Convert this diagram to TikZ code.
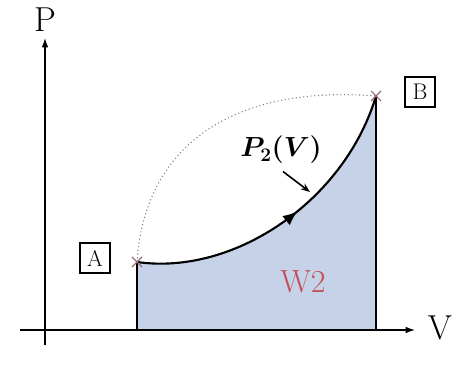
\documentclass[tikz,border=0pt]{standalone}
\usepackage{bm}
\usepackage{tikz}
\usetikzlibrary{decorations.markings, arrows.meta}
\definecolor{workfill}{RGB}{197,210,232}
\definecolor{workred}{RGB}{196,78,88}
\definecolor{crossc}{RGB}{150,110,115}
\begin{document}
\begin{tikzpicture}[x=0.75pt, y=-0.75pt,
  axis/.style={-{Latex[length=7pt,width=5pt]}, line width=1pt},
  ptbox/.style={rectangle, draw, line width=1.5pt, minimum width=23pt, minimum height=23pt,
                inner sep=0pt, font=\fontsize{17}{19}\selectfont},
  crossmark/.style={draw=crossc, thick},
  pathlbl/.style={font=\fontsize{20}{23}\selectfont}
]
  \useasboundingbox (0,0) rectangle (461,374);

  % Zone de travail
  \fill[workfill] (137,262) .. controls (235,276) and (345,200) .. (376,96)
    -- (376,330) -- (137,330) -- cycle;
  \draw[line width=1.6pt] (137,330) -- (137,262);
  \draw[line width=1.6pt] (376,96) -- (376,330);

  % Axes
  \coordinate (yo) at (45,345);
  \coordinate (yt) at (45,38);
  \coordinate (xo) at (20,330);
  \coordinate (xt) at (415,330);
  \draw[axis] (yo) -- (yt);
  \draw[axis] (xo) -- (xt);
  \node[font=\fontsize{26}{30}\selectfont] (lblP) at (45,20) {P};
  \node[font=\fontsize{26}{30}\selectfont] (lblV) at (440,328) {V};

  % Points A et B
  \coordinate (pA) at (137,262);
  \coordinate (pB) at (376,96);
  \node[ptbox] (boxA) at (95,258) {A};
  \node[ptbox] (boxB) at (420,92) {B};

  % Chemin 2
  \draw[line width=1.6pt, postaction={decorate},
        decoration={markings, mark=at position 0.55 with {\arrow{Latex[length=11pt,width=9pt]}}}]
    (pA) .. controls (235,276) and (345,200) .. (pB);
  \draw[dotted, thick, gray] (pA) .. controls (145,140) and (240,85) .. (pB);

  % Croix
  \foreach \p in {pA, pB}
    \draw[crossmark] ([shift={(-5,-5)}]\p) -- ([shift={(5,5)}]\p)
                     ([shift={(-5,5)}]\p) -- ([shift={(5,-5)}]\p);

  % Etiquettes
  \node[pathlbl] (lblP2) at (281,150) {$\bm{P_2(V)}$};
  \coordinate (onpath) at (310,192);
  \draw[-{Stealth[length=7pt]}, line width=1.2pt] (lblP2.south) ++(2,3) -- (onpath);
  \node[text=workred, font=\fontsize{24}{28}\selectfont] (lblW) at (303,282) {W2};
\end{tikzpicture}
\end{document}
